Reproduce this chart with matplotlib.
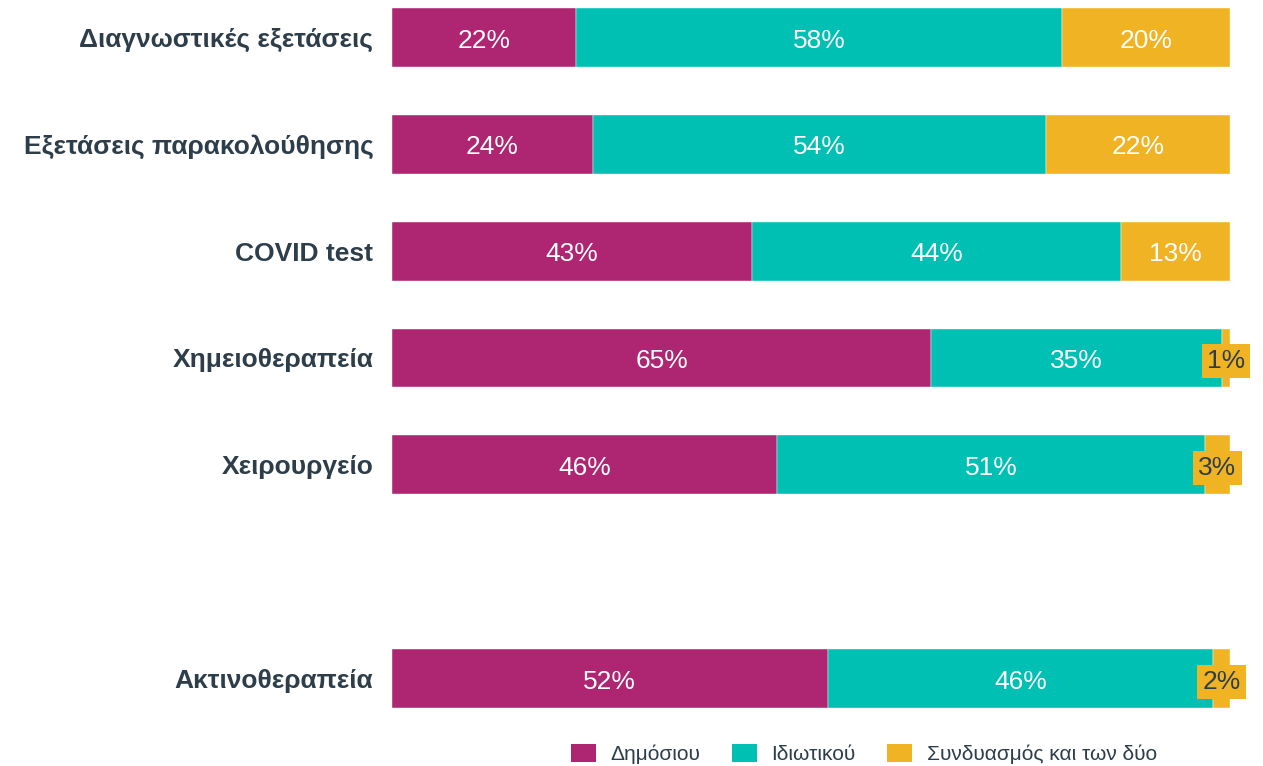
import numpy as np
import matplotlib.pyplot as plt
from matplotlib.patches import Patch

plt.rcParams['font.family'] = ['Liberation Sans', 'DejaVu Sans']

categories = ['Διαγνωστικές εξετάσεις', 'Εξετάσεις παρακολούθησης', 'COVID test',
              'Χημειοθεραπεία', 'Χειρουργείο', '', 'Ακτινοθεραπεία']
public = [22, 24, 43, 65, 46, None, 52]
private = [58, 54, 44, 35, 51, None, 46]
both = [20, 22, 13, 1, 3, None, 2]
series_names = ['Δημόσιου', 'Ιδιωτικού', 'Συνδυασμός και των δύο']
colors = ['#AE2572', '#00BFB3', '#F0B323']
text_dark = '#2D3E4A'

fig = plt.figure(figsize=(12.63, 7.66), dpi=100)
ax = fig.add_axes([392 / 1263, 58 / 766, 838 / 1263, 700 / 766])

for i, cat in enumerate(categories):
    if public[i] is None:
        continue
    vals = [public[i], private[i], both[i]]
    total = sum(vals)
    left = 0
    for v, c in zip(vals, colors):
        w = v / total * 100
        ax.barh(i, w, left=left, height=0.55, color=c, edgecolor='white', linewidth=0.3)
        cx = left + w / 2
        if v < 5:
            ax.text(cx, i + 0.03, f'{v}%', ha='center', va='center', fontsize=19, color=text_dark,
                    bbox=dict(boxstyle='square,pad=0.2', facecolor=colors[2], edgecolor='none'))
        else:
            ax.text(cx, i + 0.03, f'{v}%', ha='center', va='center', fontsize=19, color='white')
        left += w

ax.set_xlim(0, 100)
ax.set_ylim(6.275, -0.275)
ax.set_yticks(range(len(categories)))
ax.set_yticklabels(categories, fontsize=19, fontweight='bold', color=text_dark)
ax.tick_params(axis='y', length=0, pad=13.5)
ax.set_xticks([])
for s in ax.spines.values():
    s.set_visible(False)

handles = [Patch(facecolor=c, edgecolor='none') for c in colors]
fig.legend(handles, series_names, loc='center', bbox_to_anchor=(864 / 1263, 12 / 766),
           ncol=3, frameon=False, fontsize=15, handlelength=1.2, handleheight=1.0,
           handletextpad=0.7, columnspacing=1.5, labelcolor=text_dark)

fig.savefig('out.png', dpi=100)
